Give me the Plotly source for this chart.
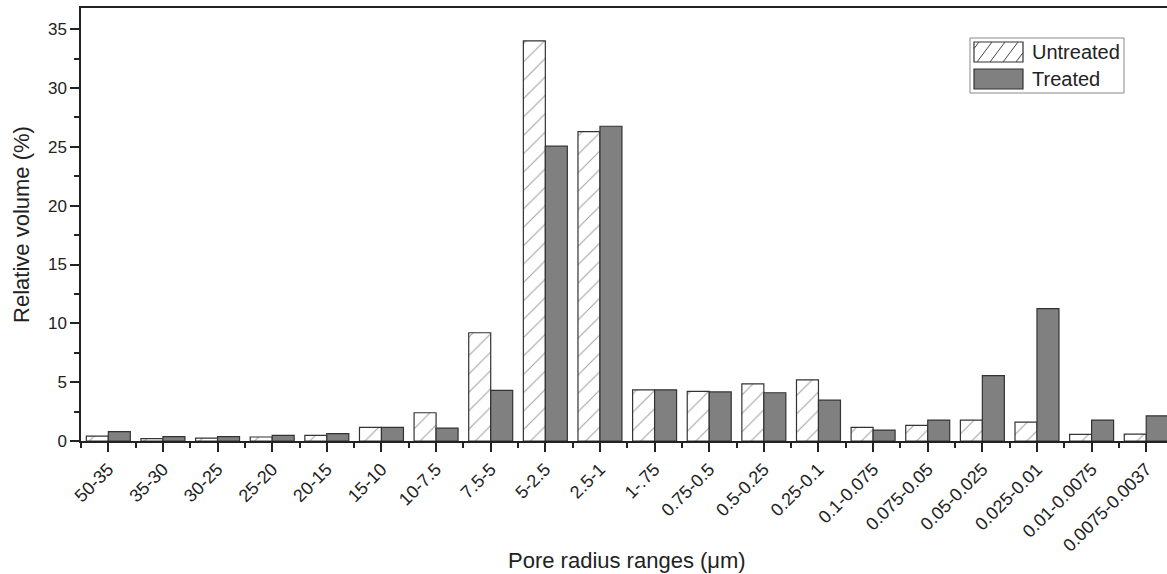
import plotly.graph_objects as go

categories = ["50-35", "35-30", "30-25", "25-20", "20-15", "15-10", "10-7.5", "7.5-5",
              "5-2.5", "2.5-1", "1-.75", "0.75-0.5", "0.5-0.25", "0.25-0.1", "0.1-0.075",
              "0.075-0.05", "0.05-0.025", "0.025-0.01", "0.01-0.0075", "0.0075-0.0037"]
untreated = [0.42, 0.2, 0.25, 0.34, 0.48, 1.16, 2.4, 9.2, 34.0, 26.3, 4.35, 4.22, 4.85,
             5.2, 1.16, 1.33, 1.78, 1.61, 0.57, 0.59]
treated = [0.79, 0.37, 0.37, 0.48, 0.62, 1.16, 1.1, 4.3, 25.06, 26.75, 4.35, 4.17, 4.1,
           3.47, 0.93, 1.78, 5.55, 11.25, 1.78, 2.14]
series_names = ["Untreated", "Treated"]
y_ticks = [0, 5, 10, 15, 20, 25, 30, 35]

x_pos = list(range(len(categories)))
FONT = "Liberation Sans, Arial, sans-serif"
INK = "#222222"

# plot area geometry in pixels (for the hand-drawn legend box only)
L, R, T, B = 81, 1167, 8, 441


def px(x):
    return (x - L) / (R - L)


def py(y):
    return (B - y) / (B - T)


fig = go.Figure()
fig.add_trace(go.Bar(
    x=x_pos, y=untreated, name=series_names[0],
    marker=dict(color="white",
                line=dict(color="#333333", width=1.2),
                pattern=dict(shape="/", fgcolor="#444444", bgcolor="white",
                             size=13, solidity=0.08)),
))
fig.add_trace(go.Bar(
    x=x_pos, y=treated, name=series_names[1],
    marker=dict(color="#808080", line=dict(color="#333333", width=1.2)),
))

# ---- custom legend (box, swatches, hatching, labels) ----
shapes = []
annotations = []
shapes.append(dict(type="rect", xref="paper", yref="paper",
                   x0=px(970), x1=px(1124), y0=py(93), y1=py(38),
                   line=dict(color="#888888", width=1), fillcolor="white", layer="above"))
# untreated swatch
sx0, sx1, sy0, sy1 = 974, 1023, 42, 62
shapes.append(dict(type="rect", xref="paper", yref="paper",
                   x0=px(sx0), x1=px(sx1), y0=py(sy1), y1=py(sy0),
                   line=dict(color="#333333", width=1.2), fillcolor="white", layer="above"))
h = sy1 - sy0
step = 13
run = 15.0
for k in range(-2, 6):
    xa = sx0 + 3 + k * step  # bottom point
    xb = xa + run            # top point
    ya, yb = sy1, sy0
    if xa < sx0:
        t = (sx0 - xa) / run
        xa, ya = sx0, sy1 - t * h
    if xb > sx1:
        t = (xb - sx1) / run
        xb, yb = sx1, sy0 + t * h
    if xa >= xb or xa > sx1 or xb < sx0:
        continue
    shapes.append(dict(type="line", xref="paper", yref="paper",
                       x0=px(xa), y0=py(ya), x1=px(xb), y1=py(yb),
                       line=dict(color="#444444", width=1), layer="above"))
# treated swatch
shapes.append(dict(type="rect", xref="paper", yref="paper",
                   x0=px(974), x1=px(1023), y0=py(89), y1=py(69),
                   line=dict(color="#333333", width=1.2), fillcolor="#808080", layer="above"))
annotations.append(dict(text=series_names[0], xref="paper", yref="paper",
                        x=px(1030), y=py(52), xanchor="left", yanchor="middle",
                        showarrow=False, font=dict(family=FONT, size=20, color=INK)))
annotations.append(dict(text=series_names[1], xref="paper", yref="paper",
                        x=px(1030), y=py(79), xanchor="left", yanchor="middle",
                        showarrow=False, font=dict(family=FONT, size=20, color=INK)))
# x-axis title placed like the reference (beside the slanted labels)
annotations.append(dict(text="Pore radius ranges (\u03bcm)", xref="paper", yref="paper",
                        x=px(627), y=py(560), xanchor="center", yanchor="middle",
                        showarrow=False, font=dict(family=FONT, size=22, color=INK)))

fig.update_layout(
    width=1167, height=574,
    margin=dict(l=L, r=0, t=T, b=574 - B, pad=0),
    paper_bgcolor="white", plot_bgcolor="white",
    barmode="group", bargap=0.195, bargroupgap=0,
    font=dict(family=FONT, size=18, color=INK),
    showlegend=False,
    shapes=shapes,
    annotations=annotations,
)

fig.update_xaxes(
    range=[-0.5, 19.38],
    tickmode="array", tickvals=x_pos, ticktext=categories,
    tickangle=-45, tickfont=dict(size=18),
    ticks="outside", ticklen=9, tickwidth=1.5, tickcolor=INK,
    minor=dict(tickmode="linear", tick0=0.5, dtick=1, ticks="outside",
               ticklen=5, tickwidth=1.5, tickcolor=INK),
    showline=True, linecolor=INK, linewidth=1.5, mirror=True,
    showgrid=False, zeroline=False,
)
fig.update_yaxes(
    range=[0, 36.8],
    tickmode="array", tickvals=y_ticks,
    tickfont=dict(size=17),
    ticks="outside", ticklen=9, tickwidth=1.5, tickcolor=INK,
    minor=dict(tickmode="linear", tick0=0, dtick=2.5, ticks="outside",
               ticklen=5, tickwidth=1.5, tickcolor=INK),
    showline=True, linecolor=INK, linewidth=1.5,
    showgrid=False, zeroline=False,
    title=dict(text="Relative volume (%)", font=dict(size=22), standoff=12),
)

fig.write_html("out.html",
               config={"displayModeBar": False},
               post_script="document.body.style.margin='0px';document.body.style.overflow='hidden';")
